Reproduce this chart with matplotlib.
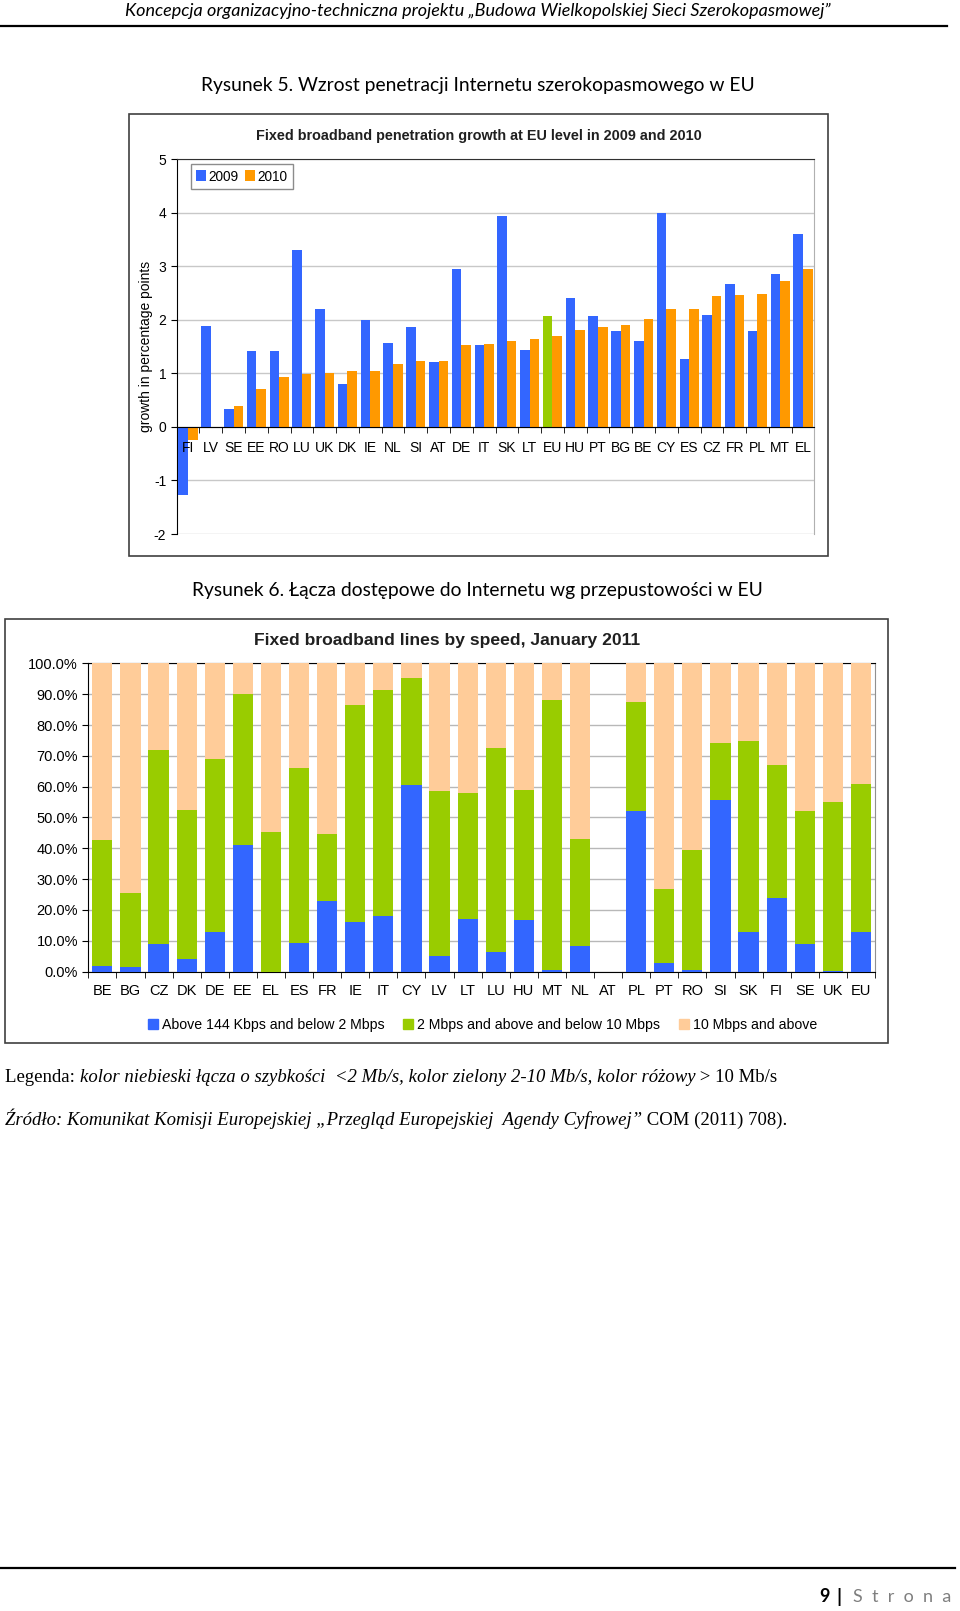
import numpy as np
import matplotlib
matplotlib.use("Agg")
import matplotlib.pyplot as plt
from matplotlib.patches import Rectangle, Patch

plt.rcParams['axes.unicode_minus'] = False

# --- Rysunek 5: wzrost penetracji (punkty procentowe) ---
kraje1 = ["FI", "LV", "SE", "EE", "RO", "LU", "UK", "DK", "IE", "NL", "SI", "AT", "DE", "IT",
          "SK", "LT", "EU", "HU", "PT", "BG", "BE", "CY", "ES", "CZ", "FR", "PL", "MT", "EL"]
wzrost_2009 = [-1.27, 1.88, 0.34, 1.42, 1.41, 3.31, 2.20, 0.80, 1.99, 1.56, 1.87, 1.22, 2.95, 1.53,
               3.93, 1.44, 2.07, 2.40, 2.07, 1.80, 1.60, 4.00, 1.27, 2.09, 2.66, 1.80, 2.86, 3.60]
wzrost_2010 = [-0.25, 0.0, 0.40, 0.71, 0.93, 0.99, 1.00, 1.05, 1.04, 1.18, 1.24, 1.24, 1.53, 1.55,
               1.61, 1.64, 1.70, 1.81, 1.87, 1.90, 2.02, 2.20, 2.20, 2.44, 2.46, 2.49, 2.73, 2.94]

# --- Rysunek 6: łącza wg przepustowości (% linii) ---
kraje2 = ["BE", "BG", "CZ", "DK", "DE", "EE", "EL", "ES", "FR", "IE", "IT", "CY", "LV", "LT",
          "LU", "HU", "MT", "NL", "AT", "PL", "PT", "RO", "SI", "SK", "FI", "SE", "UK", "EU"]
ponizej_2 = [1.8, 1.6, 8.9, 4.0, 12.8, 41.0, 0.0, 9.4, 22.8, 16.0, 18.0, 60.6, 5.1, 16.9,
             6.3, 16.8, 0.4, 8.2, 0.0, 52.0, 2.8, 0.4, 55.8, 12.8, 24.0, 8.9, 0.3, 12.8]
od_2_do_10 = [41.0, 24.0, 62.9, 48.3, 56.2, 49.0, 45.4, 56.6, 22.0, 70.5, 73.3, 34.6, 53.4, 40.9,
              66.2, 42.2, 87.6, 34.8, 0.0, 35.5, 23.9, 38.9, 18.5, 61.9, 43.0, 43.3, 54.8, 48.2]
powyzej_10 = [57.2, 74.4, 28.2, 47.7, 31.0, 10.0, 54.6, 34.0, 55.2, 13.5, 8.7, 4.8, 41.5, 42.2,
              27.5, 41.0, 12.0, 57.0, 0.0, 12.5, 73.3, 60.7, 25.7, 25.3, 33.0, 47.8, 44.9, 39.0]

NIEB = "#3366FF"
POMAR = "#FF9900"
ZIEL = "#99CC00"
ROZ = "#FFCC99"

fig = plt.figure(figsize=(9.6, 16.11), dpi=100)

S = 1.027
def X(px):
    return px * S / 960
def Y(py):
    return 1 - py * S / 1611

doc = "Lato"
arial = "Liberation Sans"
times = "Liberation Serif"

# naglowek strony
fig.text(X(465), Y(11), "Koncepcja organizacyjno-techniczna projektu „Budowa Wielkopolskiej Sieci Szerokopasmowej”",
         family=doc, style="italic", fontsize=13, ha="center", va="center")
fig.add_artist(plt.Line2D([X(0), X(922)], [Y(25), Y(25)], color="black", lw=1.6))

fig.text(X(465), Y(83), "Rysunek 5. Wzrost penetracji Internetu szerokopasmowego w EU",
         family=doc, fontsize=13.9, ha="center", va="center")

# ramka wykresu 1
fig.add_artist(Rectangle((X(126), Y(541)), X(806) - X(126), Y(111) - Y(541),
                         transform=fig.transFigure, fill=False, ec="#404040", lw=1.2))
fig.text(X(466), Y(132), "Fixed broadband penetration growth at EU level in 2009 and 2010",
         family=arial, weight="bold", fontsize=10.4, ha="center", va="center", color="#202020")

ax1 = fig.add_axes([X(172), Y(520), X(793) - X(172), Y(155) - Y(520)])
x1 = np.arange(len(kraje1))
kol09 = [ZIEL if k == "EU" else NIEB for k in kraje1]
ax1.bar(x1 - 0.21, wzrost_2009, 0.42, color=kol09, zorder=3, label="2009")
ax1.bar(x1 + 0.21, wzrost_2010, 0.42, color=POMAR, zorder=3, label="2010")
ax1.set_xlim(-0.5, len(kraje1) - 0.5)
ax1.set_ylim(-2, 5)
ax1.set_yticks(range(-2, 6))
ax1.grid(axis="y", color="#C8C8C8", lw=1)
ax1.yaxis.set_zorder(1)
ax1.xaxis.set_zorder(4)
ax1.spines["bottom"].set_position(("data", 0))
ax1.spines["bottom"].set_color("black")
ax1.spines["bottom"].set_zorder(4)
ax1.spines["left"].set_color("black")
ax1.spines["top"].set_color("#303030")
ax1.spines["right"].set_color("#B0B0B0")
ax1.set_xticks(x1)
ax1.set_xticklabels(kraje1, family=arial, fontsize=10)
ax1.set_xticks(x1[:-1] + 0.5, minor=True)
ax1.tick_params(axis="x", which="major", length=0, pad=10)
ax1.tick_params(axis="x", which="minor", length=4, direction="out")
ax1.tick_params(axis="y", length=4, labelsize=10)
for t in ax1.get_yticklabels():
    t.set_family(arial)
ax1.set_ylabel("growth in percentage points", family=arial, fontsize=10)
ax1.yaxis.set_label_coords(-0.037, 0.5)
leg1 = ax1.legend(loc="upper left", bbox_to_anchor=(0.022, 0.987), ncol=2,
                  handlelength=0.7, handleheight=0.9, handletextpad=0.2, columnspacing=0.5,
                  borderaxespad=0, fancybox=False, edgecolor="#707070", prop={"family": arial, "size": 9.8})
leg1.get_frame().set_linewidth(1)

# --- wykres 2 ---
fig.text(X(465), Y(575), "Rysunek 6. Łącza dostępowe do Internetu wg przepustowości w EU",
         family=doc, fontsize=13.9, ha="center", va="center")

fig.add_artist(Rectangle((X(5), Y(1016)), X(865) - X(5), Y(603) - Y(1016),
                         transform=fig.transFigure, fill=False, ec="#404040", lw=1.2))
fig.text(X(435), Y(624), "Fixed broadband lines by speed, January 2011",
         family=arial, weight="bold", fontsize=12.6, ha="center", va="center", color="#202020")

ax2 = fig.add_axes([X(86), Y(946), X(852) - X(86), Y(646) - Y(946)])
x2 = np.arange(len(kraje2))
dol = np.array(ponizej_2)
srod = np.array(od_2_do_10)
ax2.bar(x2, dol, 0.72, color=NIEB, zorder=3)
ax2.bar(x2, srod, 0.72, bottom=dol, color=ZIEL, zorder=3)
ax2.bar(x2, powyzej_10, 0.72, bottom=dol + srod, color=ROZ, zorder=3)
ax2.set_xlim(-0.5, len(kraje2) - 0.5)
ax2.set_ylim(0, 100)
ax2.set_yticks(range(0, 101, 10))
ax2.set_yticklabels([f"{v:.1f}%" for v in range(0, 101, 10)], family=arial, fontsize=10.5)
ax2.grid(axis="y", color="#B8B8B8", lw=1, zorder=0)
for s in ["left", "bottom", "top"]:
    ax2.spines[s].set_color("black")
ax2.spines["right"].set_color("#909090")
ax2.set_xticks(x2)
ax2.set_xticklabels(kraje2, family=arial, fontsize=10.5)
ax2.set_xticks(np.arange(len(kraje2) + 1) - 0.5, minor=True)
ax2.tick_params(axis="x", which="major", length=0, pad=9)
ax2.tick_params(axis="x", which="minor", length=4)
ax2.tick_params(axis="y", length=4)

uchwyty = [Patch(color=NIEB), Patch(color=ZIEL), Patch(color=ROZ)]
fig.legend(uchwyty, ["Above 144 Kbps and below 2 Mbps", "2 Mbps and above and below 10 Mbps",
                     "10 Mbps and above"],
           loc="center", bbox_to_anchor=(X(470), Y(998)), ncol=3, frameon=False,
           handlelength=0.7, handleheight=0.8, handletextpad=0.3, columnspacing=1.3,
           prop={"family": arial, "size": 10.2})

# --- opisy pod wykresem ---
renderer = fig.canvas.get_renderer()
def linia(x, y, czesci, **wsp):
    cx = x
    for tekst, kw in czesci:
        t = fig.text(cx, y, tekst, **wsp, **kw)
        cx += t.get_window_extent(renderer).width / fig.bbox.width

linia(X(5), Y(1054), [("Legenda: ", {}),
                      ("kolor niebieski łącza o szybkości  <2 Mb/s, kolor zielony 2-10 Mb/s, kolor różowy", {"style": "italic"}),
                      (" > 10 Mb/s", {})],
      family=times, fontsize=13.5, va="baseline")
linia(X(5), Y(1095), [("Źródło: Komunikat Komisji Europejskiej „Przegląd Europejskiej  Agendy Cyfrowej”", {"style": "italic"}),
                      (" COM (2011) 708).", {})],
      family=times, fontsize=13.5, va="baseline")

# stopka
fig.add_artist(plt.Line2D([X(0), X(930)], [Y(1527), Y(1527)], color="black", lw=1.6))
fig.text(X(808), Y(1555), "9", family=doc, weight="bold", fontsize=13, ha="right", va="center")
fig.text(X(817), Y(1555), "|", family=doc, weight="bold", fontsize=14, ha="center", va="center")
fig.text(X(831), Y(1555), "S  t  r  o  n  a", family=doc, fontsize=13, color="#7F7F7F", ha="left", va="center")

fig.savefig("out.png", dpi=100)
